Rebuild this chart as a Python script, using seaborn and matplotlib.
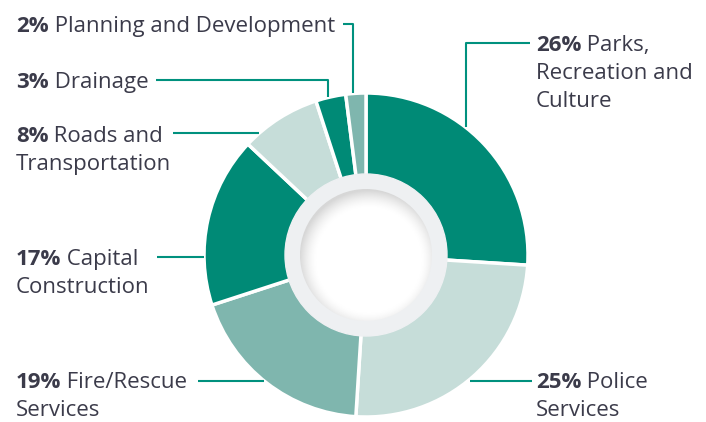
import numpy as np
import matplotlib.pyplot as plt
import seaborn as sns
from matplotlib.patches import Circle

sns.set_theme(style="white")
plt.rcParams['font.family'] = ['Open Sans', 'DejaVu Sans']

# data, clockwise from 12 o'clock
categories = ["Parks,\nRecreation and\nCulture", "Police\nServices", "Fire/Rescue\nServices",
              "Capital\nConstruction", "Roads and\nTransportation", "Drainage",
              "Planning and Development"]
shares = [26, 25, 19, 17, 8, 3, 2]
slice_colors = ["#008a76", "#c6ddd9", "#7fb6ae", "#008a76", "#c6ddd9", "#008a76", "#7fb6ae"]

TEXT = "#3b3b4a"
LEADER = "#00917e"

# label layout (pixel coords): text x, first baseline y, leader polyline
label_layout = [
    (536, 51, [(530, 43), (466, 43), (466, 127)]),
    (536, 388, [(470, 381), (532, 381)]),
    (16, 388, [(198, 381), (264, 381)]),
    (16, 265, [(157, 257), (204, 257)]),
    (16, 142, [(173, 133), (259, 133)]),
    (16, 88, [(156, 80), (328, 80), (328, 97)]),
    (16, 32, [(343, 24), (353, 24), (353, 93)]),
]

fig = plt.figure(figsize=(7.06, 4.22), dpi=100)
ax = fig.add_axes([0, 0, 1, 1])

# y axis is flipped below, so counterclock in data = clockwise on screen
ax.pie(shares, colors=slice_colors, center=(366, 255), radius=162,
       startangle=-90, counterclock=True,
       wedgeprops=dict(edgecolor="white", linewidth=2.5))

# inner grey ring + white centre with soft shadow
ax.add_patch(Circle((366, 255), 81, color="#eef0f2", zorder=3))
xx, yy = np.meshgrid(np.linspace(300, 432, 200), np.linspace(189, 321, 200))
d = np.hypot(xx - 369, yy - 260)
shade = np.clip((d - 52) / 18, 0, 1) ** 1.6
img = 1 - 0.16 * shade
im = ax.imshow(img, extent=(300, 432, 321, 189), cmap="gray", vmin=0, vmax=1,
               zorder=4, interpolation="bilinear")
clip = Circle((366, 255), 66, transform=ax.transData)
im.set_clip_path(clip)

ax.set_xlim(0, 706)
ax.set_ylim(422, 0)
ax.axis("off")

fs = 16
for cat, pct, (x, y, pts) in zip(categories, shares, label_layout):
    lines = cat.split("\n")
    b = ax.text(x, y, f"{pct}%", fontsize=fs, fontweight="bold", color=TEXT,
                va="baseline", ha="left")
    ax.annotate(" " + lines[0], xy=(1, 0), xycoords=b, va="bottom", ha="left",
                fontsize=fs, color=TEXT)
    for i, ln in enumerate(lines[1:], start=1):
        ax.text(x, y + i * 28, ln, fontsize=fs, color=TEXT, va="baseline", ha="left")
    px, py = zip(*pts)
    ax.plot(px, py, color=LEADER, lw=1.5, solid_capstyle="butt")

fig.savefig("out.png", dpi=100)
